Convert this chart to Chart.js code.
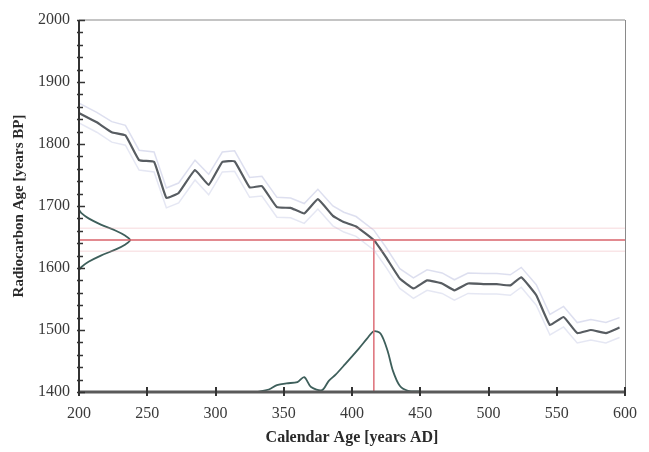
<!DOCTYPE html>
<html>
<head>
<meta charset="utf-8">
<script src="https://cdn.jsdelivr.net/npm/chart.js@4.4.1/dist/chart.umd.min.js"></script>
<style>
  html, body { margin: 0; padding: 0; background: #ffffff; }
  #wrap { width: 649px; height: 452px; position: relative; }
</style>
</head>
<body>
<div id="wrap"><canvas id="c" width="649" height="452"></canvas></div>
<script>
// ---- data ----
const calYears = [200,213,224,234,244,255,264,273,285,295,305,314,325,334,345,355,365,375,386,394,403,416,425,435,445,455,466,475,485,497,506,516,524,535,545,555,565,575,586,596];
const c14Ages  = [1850,1835,1819,1814,1774,1771,1713,1721,1758,1734,1771,1772,1730,1732,1698,1697,1688,1711,1684,1674,1667,1645,1617,1583,1567,1580,1575,1564,1575,1574,1574,1572,1585,1556,1508,1521,1495,1500,1495,1504];
const c14Upper = [1866,1851,1836,1830,1790,1787,1729,1737,1774,1751,1787,1789,1746,1748,1714,1713,1704,1727,1700,1690,1683,1661,1633,1599,1584,1597,1592,1581,1592,1591,1591,1589,1601,1573,1525,1538,1512,1517,1512,1520];
const c14Lower = [1834,1819,1803,1798,1758,1755,1697,1705,1742,1718,1755,1756,1714,1716,1682,1681,1672,1695,1668,1658,1651,1629,1601,1567,1551,1564,1559,1548,1559,1558,1558,1556,1569,1540,1492,1505,1479,1484,1479,1488];

const measuredAge = 1645;
const measuredUpper = 1664;
const measuredLower = 1627;
const calibratedYear = 416;

// measured radiocarbon age distribution (drawn against the calendar axis)
const gaussAges    = [1694,1688,1680,1670,1660,1652,1645,1638,1630,1620,1610,1602,1597];
const gaussDensity = [200,202,207,216,227,234,237.5,234,227,216,207,202,200];

// calibrated calendar age probability (drawn above the 1400 baseline)
const calProbYears   = [330,339,345,352,360,365,370,378,383,388,395,405,411,416,421,426,430,435,441,450];
const calProbHeights = [1400,1404,1411,1414,1416,1424,1408,1403,1418,1428,1445,1470,1486,1498,1494,1467,1434,1410,1402,1401];

const xTicks = [200,250,300,350,400,450,500,550,600];
const yTicks = [1400,1500,1600,1700,1800,1900,2000];

const pts = (xs, ys) => xs.map((x, i) => ({x: x, y: ys[i]}));

const axesPlugin = {
  id: 'axesPlugin',
  afterDatasetsDraw(chart) {
    const ctx = chart.ctx;
    const xs = chart.scales.x, ys = chart.scales.y;
    const L = xs.getPixelForValue(200), R = xs.getPixelForValue(600);
    const T = ys.getPixelForValue(2000), B = ys.getPixelForValue(1400);
    ctx.save();
    ctx.strokeStyle = '#c4c4c4'; ctx.lineWidth = 2;
    ctx.beginPath(); ctx.moveTo(L, T); ctx.lineTo(R, T); ctx.stroke();
    ctx.strokeStyle = '#8a8a8a'; ctx.lineWidth = 1;
    ctx.beginPath(); ctx.moveTo(R + 0.5, T); ctx.lineTo(R + 0.5, B); ctx.stroke();
    ctx.strokeStyle = '#5a5a5a'; ctx.lineWidth = 3;
    ctx.beginPath(); ctx.moveTo(L, B); ctx.lineTo(R, B); ctx.stroke();
    ctx.strokeStyle = '#333333'; ctx.lineWidth = 2;
    ctx.beginPath(); ctx.moveTo(L, T); ctx.lineTo(L, B + 1); ctx.stroke();
    ctx.lineWidth = 1.5; ctx.strokeStyle = '#333333';
    for (let v = 1400; v <= 2000; v += 20) {
      const py = Math.round(ys.getPixelForValue(v)) + 0.5;
      const major = v % 100 === 0;
      ctx.beginPath(); ctx.moveTo(L - 2, py); ctx.lineTo(L + (major ? 6 : 4), py); ctx.stroke();
    }
    ctx.lineWidth = 2; ctx.strokeStyle = '#333333';
    xTicks.forEach(v => {
      const px = Math.round(xs.getPixelForValue(v));
      ctx.beginPath(); ctx.moveTo(px, B - 5); ctx.lineTo(px, B + 4); ctx.stroke();
    });
    ctx.restore();
  }
};

const lineDs = (data, color, width, extra) => Object.assign({
  data: data, borderColor: color, borderWidth: width, pointRadius: 0,
  fill: false, tension: 0, showLine: true
}, extra || {});

new Chart(document.getElementById('c'), {
  type: 'line',
  data: {
    datasets: [
      lineDs(pts([200,600],[measuredUpper,measuredUpper]), 'rgba(230,150,160,0.25)', 1.5),
      lineDs(pts([200,600],[measuredLower,measuredLower]), 'rgba(230,150,160,0.25)', 1.5),
      lineDs(pts(calYears, c14Upper), 'rgba(180,185,220,0.45)', 1.5),
      lineDs(pts(calYears, c14Lower), 'rgba(180,185,220,0.35)', 1.5),
      lineDs(pts([200,600],[measuredAge,measuredAge]), '#d9636b', 1.5),
      lineDs(pts([calibratedYear,calibratedYear],[measuredAge,1400]), '#de6f78', 1.5),
      lineDs(pts(gaussDensity, gaussAges), '#3e5f5b', 1.8, { tension: 0.3 }),
      lineDs(pts(calProbYears, calProbHeights), '#3e5f5b', 1.8, { tension: 0.3 }),
      lineDs(pts(calYears, c14Ages), '#575c61', 2.2, { tension: 0.1 })
    ]
  },
  options: {
    responsive: false,
    animation: false,
    layout: { padding: { top: 20, right: 16, left: 0, bottom: 0 } },
    plugins: { legend: { display: false }, tooltip: { enabled: false } },
    scales: {
      x: {
        type: 'linear', min: 200, max: 600,
        grid: { display: false, drawTicks: false },
        border: { display: false },
        afterBuildTicks: s => { s.ticks = xTicks.map(v => ({value: v})); },
        ticks: { padding: 12, color: '#3a3a3a', font: { family: 'Liberation Serif', size: 16 }, maxRotation: 0, autoSkip: false,
                 callback: v => String(v) },
        title: { display: true, text: 'Calendar Age [years AD]', color: '#2a2a2a',
                 font: { family: 'Liberation Serif', size: 16, weight: 'bold' }, padding: { top: 0, bottom: 5 } },
        afterFit: s => { s.height = 60; }
      },
      y: {
        type: 'linear', min: 1400, max: 2000,
        grid: { display: false, drawTicks: false },
        border: { display: false },
        afterBuildTicks: s => { s.ticks = yTicks.map(v => ({value: v})); },
        ticks: { padding: 9, color: '#3a3a3a', font: { family: 'Liberation Serif', size: 16 }, autoSkip: false,
                 callback: v => String(v) },
        title: { display: true, text: 'Radiocarbon Age [years BP]', color: '#2a2a2a',
                 font: { family: 'Liberation Serif', size: 15, weight: 'bold' }, padding: { top: 10, bottom: 0 } },
        afterFit: s => { s.width = 79; }
      }
    }
  },
  plugins: [axesPlugin]
});
</script>
</body>
</html>
